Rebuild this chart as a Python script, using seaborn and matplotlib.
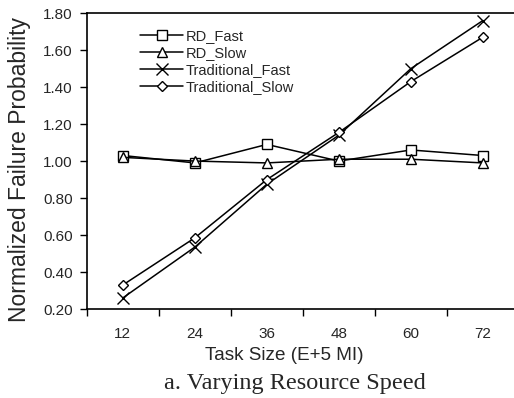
import matplotlib
matplotlib.use("Agg")
import matplotlib.pyplot as plt
import seaborn as sns
import pandas as pd

sizes = ["12", "24", "36", "48", "60", "72"]
rd_fast = [1.03, 0.99, 1.09, 1.00, 1.06, 1.03]
rd_slow = [1.02, 1.00, 0.99, 1.01, 1.01, 0.99]
trad_fast = [0.26, 0.535, 0.875, 1.14, 1.50, 1.76]
trad_slow = [0.33, 0.585, 0.90, 1.155, 1.43, 1.67]
series_names = ["RD_Fast", "RD_Slow", "Traditional_Fast", "Traditional_Slow"]
y_ticks = [0.20, 0.40, 0.60, 0.80, 1.00, 1.20, 1.40, 1.60, 1.80]

rows = []
for name, vals in zip(series_names, [rd_fast, rd_slow, trad_fast, trad_slow]):
    for s, v in zip(sizes, vals):
        rows.append({"size": s, "value": v, "series": name})
df = pd.DataFrame(rows)

sns.set_theme(style="white")
plt.rcParams["font.family"] = ["Liberation Sans", "DejaVu Sans"]

fig = plt.figure(figsize=(5.14, 3.98), dpi=100)
ax = fig.add_axes([0.169, 0.2236, 0.8405, 0.7434])

markers = {"RD_Fast": "s", "RD_Slow": "^", "Traditional_Fast": "x", "Traditional_Slow": "D"}
msize = {"RD_Fast": 6.5, "RD_Slow": 7, "Traditional_Fast": 8.5, "Traditional_Slow": 5.5}
for name in series_names:
    sub = df[df["series"] == name]
    sns.lineplot(data=sub, x="size", y="value", ax=ax, color="black", lw=1.1,
                 marker=markers[name], markersize=msize[name], markerfacecolor="white",
                 markeredgecolor="black", markeredgewidth=1.0, label=name, sort=False)

ax.set_xlim(-0.5, len(sizes) - 0.5)
ax.set_ylim(0.20, 1.80)
ax.set_yticks(y_ticks)
ax.set_yticklabels([f"{t:.2f}" for t in y_ticks], fontsize=11)
ax.set_xticks(range(len(sizes)))
ax.set_xticklabels(sizes, fontsize=11)
ax.set_xticks([i - 0.5 for i in range(len(sizes) + 1)], minor=True)
ax.tick_params(axis="x", which="major", length=0, pad=13)
ax.tick_params(axis="x", which="minor", length=5, width=1, direction="out", color="black", bottom=True)
ax.tick_params(axis="y", length=5, width=1, direction="out", color="black", left=True, pad=5)
for sp in ax.spines.values():
    sp.set_color("black")
    sp.set_linewidth(1.2)
ax.set_xlabel("")
ax.set_ylabel("")
fig.text(0.037, 0.573, "Normalized Failure Probability", rotation=90, ha="center", va="center",
         fontsize=16.5)
fig.text(0.553, 0.108, "Task Size (E+5 MI)", ha="center", va="center", fontsize=13.6)
fig.text(0.574, 0.036, "a. Varying Resource Speed", ha="center", va="center",
         fontsize=17.5, family=["Liberation Serif", "DejaVu Serif"])

leg = ax.legend(loc="upper left", bbox_to_anchor=(0.107, 0.97), frameon=False, fontsize=10.5,
                handlelength=2.9, handletextpad=0.2, labelspacing=0.2, borderpad=0)

fig.savefig("out.png", dpi=100)
